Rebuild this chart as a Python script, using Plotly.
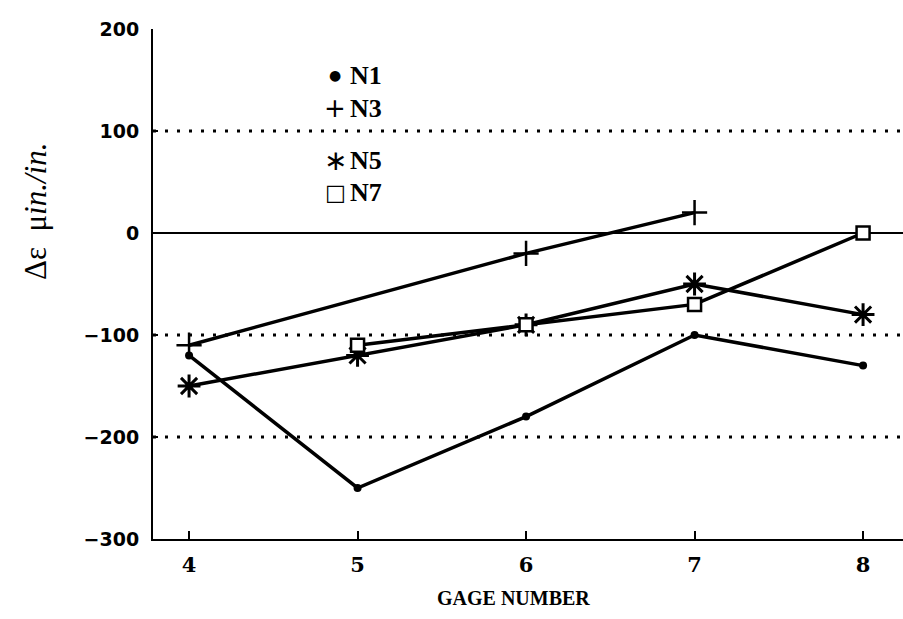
import plotly.graph_objects as go

# Strain change at each gage location for the four load cases
gage = [4, 5, 6, 7, 8]
n1 = [-120, -250, -180, -100, -130]
n3_gage = [4, 6, 7]
n3 = [-110, -20, 20]
n5 = [-150, -120, -90, -50, -80]
n7_gage = [5, 6, 7, 8]
n7 = [-110, -90, -70, 0]

y_ticks = [200, 100, 0, -100, -200, -300]
dotted_levels = [100, -100, -200]

legend_entries = [("●", "N1", 75, 14), ("+", "N3", 108, 26), ("∗", "N5", 160, 28), ("□", "N7", 192, 22)]

INK = "black"
SERIF = "Liberation Serif"

fig = go.Figure()

line = dict(color=INK, width=3.5)
fig.add_trace(go.Scatter(x=gage, y=n1, mode="lines+markers", line=line,
                         marker=dict(symbol="circle", size=8, color=INK)))
fig.add_trace(go.Scatter(x=n3_gage, y=n3, mode="lines+markers", line=line,
                         marker=dict(symbol="cross-thin", size=18,
                                     line=dict(color=INK, width=2.5))))
fig.add_trace(go.Scatter(x=gage, y=n5, mode="lines+markers", line=line,
                         marker=dict(symbol="asterisk", size=19,
                                     line=dict(color=INK, width=3))))
fig.add_trace(go.Scatter(x=n7_gage, y=n7, mode="lines+markers", line=line,
                         marker=dict(symbol="square", size=13, color="white",
                                     line=dict(color=INK, width=2.5))))

# Dotted reference levels across the plotting area
for lvl in dotted_levels:
    fig.add_shape(type="line", xref="paper", x0=0, x1=1, yref="y", y0=lvl, y1=lvl,
                  line=dict(color=INK, width=3, dash="3px,9px"), layer="below")

# Hand-set key of symbols
for sym, name, ypix, sym_size in legend_entries:
    yp = (539 - ypix) / 510
    fig.add_annotation(xref="paper", yref="paper", x=(335 - 153) / 750, y=yp,
                       text=sym, showarrow=False, xanchor="center", yanchor="middle",
                       font=dict(family="DejaVu Sans", size=sym_size, color=INK))
    fig.add_annotation(xref="paper", yref="paper", x=(348 - 153) / 750, y=yp,
                       text="<b>" + name + "</b>", showarrow=False, xanchor="left",
                       yanchor="middle", font=dict(family=SERIF, size=26, color=INK))

# Axis titles
fig.add_annotation(xref="paper", yref="paper", x=(36 - 153) / 750, y=(539 - 212) / 510,
                   text="Δε  μ<i>in./in.</i>", textangle=-90, showarrow=False,
                   xanchor="center", yanchor="middle",
                   font=dict(family=SERIF, size=31, color=INK))
fig.add_annotation(xref="paper", yref="paper", x=(513 - 153) / 750, y=(539 - 598) / 510,
                   text="<b>GAGE NUMBER</b>", showarrow=False,
                   xanchor="center", yanchor="middle",
                   font=dict(family=SERIF, size=20, color=INK))

fig.update_layout(
    width=903, height=619,
    margin=dict(l=153, r=0, t=29, b=80),
    paper_bgcolor="white", plot_bgcolor="white",
    showlegend=False,
    xaxis=dict(range=[3.786, 8.237], tickvals=gage, ticks="inside", ticklen=8,
               tickwidth=2, tickcolor=INK, showline=True, linecolor=INK, linewidth=2,
               showgrid=False, zeroline=False, ticklabelstandoff=6,
               tickfont=dict(family="DejaVu Serif", size=21, color=INK, weight="bold")),
    yaxis=dict(range=[-300, 200], tickvals=y_ticks, ticks="inside", ticklen=5,
               tickwidth=2, tickcolor=INK, showline=True, linecolor=INK, linewidth=2,
               showgrid=False, zeroline=True, zerolinecolor=INK, zerolinewidth=2,
               ticklabelstandoff=8,
               tickfont=dict(family="DejaVu Sans", size=19, color=INK, weight="bold")),
)

fig.write_html("out.html")
